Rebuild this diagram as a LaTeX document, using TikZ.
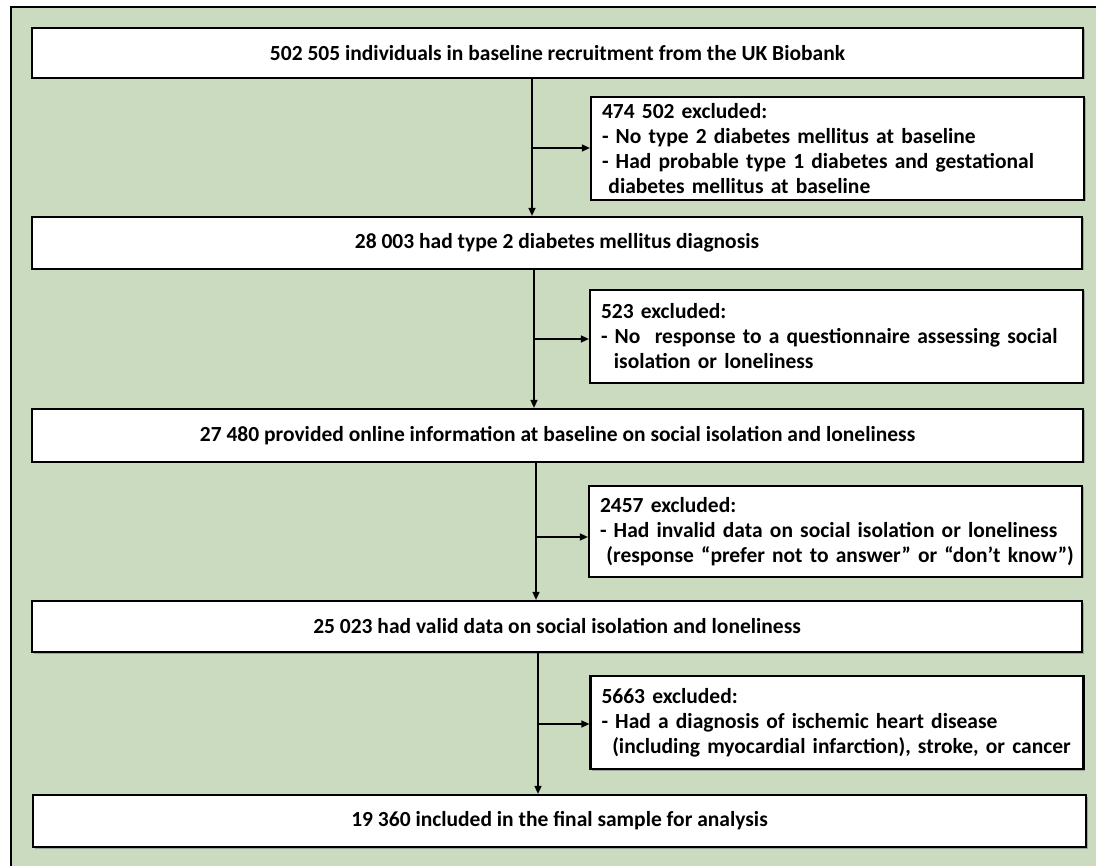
\documentclass[tikz,border=0pt]{standalone}
\usepackage{fontspec}
\setmainfont{Carlito}
\usetikzlibrary{arrows.meta,shadows}
\definecolor{bggreen}{RGB}{202,219,191}
\begin{document}
\begin{tikzpicture}[x=1pt,y=-1pt,
  every node/.style={font=\fontsize{21.5}{25}\selectfont\bfseries},
  mainbox/.style={draw=black, line width=2.2pt, fill=white, inner sep=0pt,
    align=center, drop shadow={shadow xshift=1.5pt, shadow yshift=-1.5pt, fill=black!50, opacity=0.6}},
  exclbox/.style={draw=black, line width=2.2pt, fill=white, inner xsep=11pt, inner ysep=0pt,
    align=left, text width=471pt, drop shadow={shadow xshift=1.5pt, shadow yshift=-1.5pt, fill=black!50, opacity=0.6}},
  arr/.style={line width=1.5pt, -{Triangle[length=8pt,width=7pt]}}]
\useasboundingbox (0,0) rectangle (1096,866);
\fill[bggreen] (11,7) rectangle (1096,866);
\draw[line width=2pt] (11,866) -- (11,7) -- (1096,7);

\node[mainbox, minimum width=1051pt, minimum height=50pt] (b1) at (557.5,53)
  {502 505 individuals in baseline recruitment from the UK Biobank};
\node[exclbox, minimum height=103pt] (e1) at (837.5,148.5)
  {\mbox{474 502 excluded:}\\
   \mbox{- No type 2 diabetes mellitus at baseline}\\
   \mbox{- Had probable type 1 diabetes and gestational}\\
   \mbox{\hspace*{0.3em}diabetes mellitus at baseline}};
\node[mainbox, minimum width=1050pt, minimum height=52pt] (b2) at (557,243)
  {28 003 had type 2 diabetes mellitus diagnosis};
\node[exclbox, minimum height=93pt] (e2) at (836.5,336.5)
  {\mbox{523 excluded:}\\
   \mbox{- No\ \ response to a questionnaire assessing social}\\
   \mbox{\hspace*{0.6em}isolation or loneliness}};
\node[mainbox, minimum width=1051pt, minimum height=53pt] (b3) at (557.5,435.5)
  {27 480 provided online information at baseline on social isolation and loneliness};
\node[exclbox, minimum height=91pt] (e3) at (835.5,531.5)
  {\mbox{2457 excluded:}\\
   \mbox{- Had invalid data on social isolation or loneliness}\\
   \mbox{\hspace*{0.3em}(response “prefer not to answer” or “don’t know”)}};
\node[mainbox, minimum width=1050pt, minimum height=51pt] (b4) at (557,626.5)
  {25 023 had valid data on social isolation and loneliness};
\node[exclbox, minimum height=93pt] (e4) at (837,722.5)
  {\mbox{5663 excluded:}\\
   \mbox{- Had a diagnosis of ischemic heart disease}\\
   \mbox{\hspace*{0.5em}(including myocardial infarction), stroke, or cancer}};
\node[mainbox, minimum width=1053pt, minimum height=52pt] (b5) at (559.5,821)
  {19 360 included in the final sample for analysis};

\coordinate (c1) at (532,148);
\coordinate (c2) at (534,339);
\coordinate (c3) at (536,537);
\coordinate (c4) at (538,724);
\draw[arr] (c1 |- b1.south) -- (c1 |- b2.north);
\draw[arr] (c1) -- (c1 -| e1.west);
\draw[arr] (c2 |- b2.south) -- (c2 |- b3.north);
\draw[arr] (c2) -- (c2 -| e2.west);
\draw[arr] (c3 |- b3.south) -- (c3 |- b4.north);
\draw[arr] (c3) -- (c3 -| e3.west);
\draw[arr] (c4 |- b4.south) -- (c4 |- b5.north);
\draw[arr] (c4) -- (c4 -| e4.west);
\end{tikzpicture}
\end{document}
